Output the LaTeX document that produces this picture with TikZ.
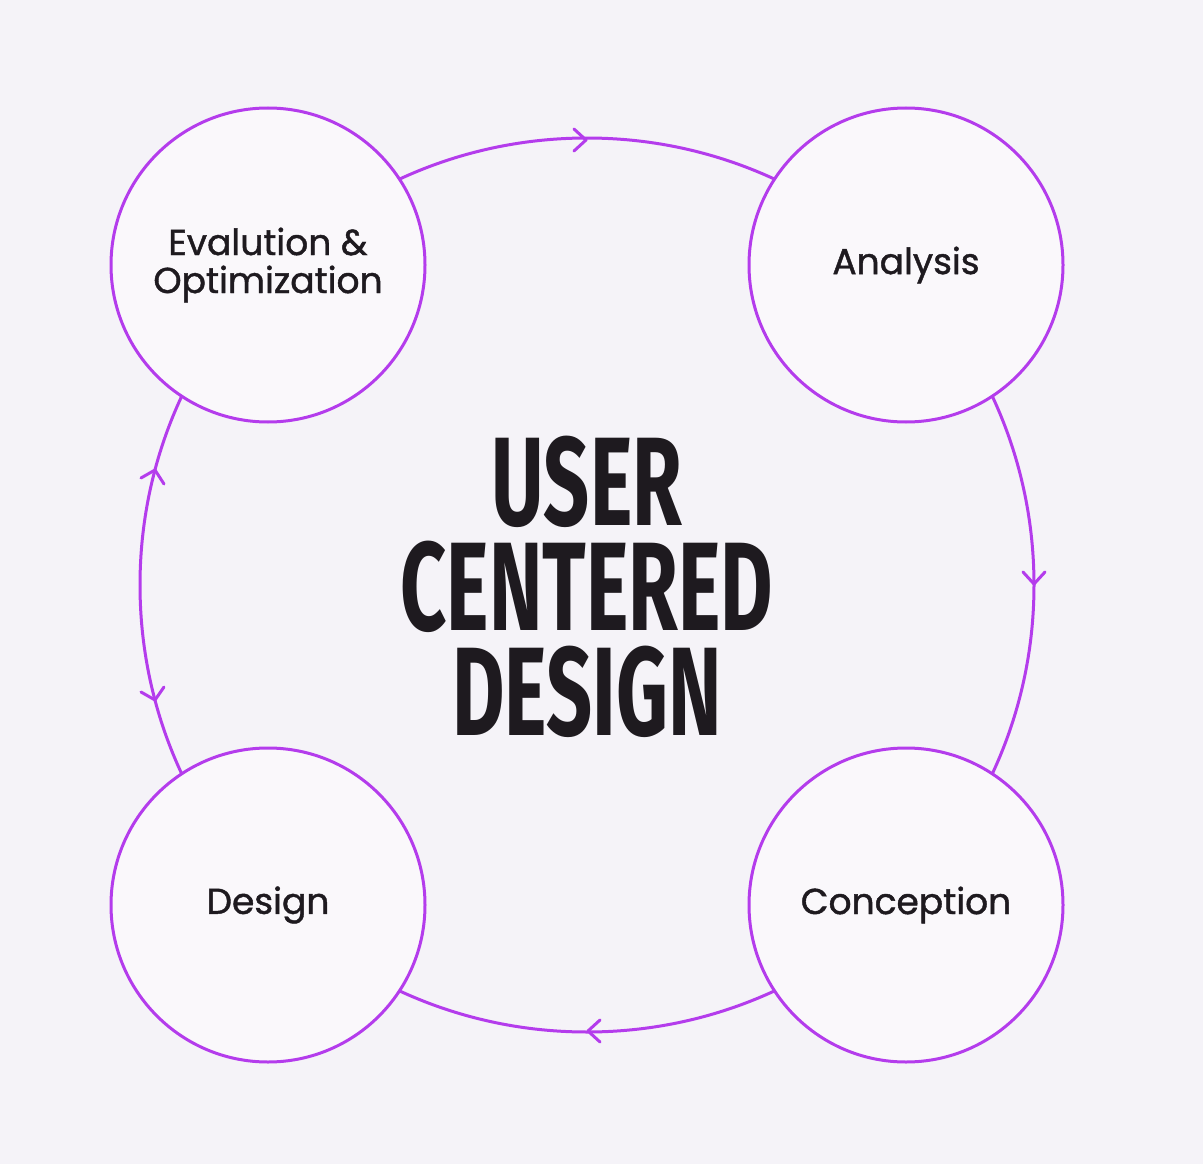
\documentclass[tikz,border=0pt]{standalone}
\usepackage{fontspec}
\usetikzlibrary{calc}
\setmainfont{Poppins}
\newfontfamily\labfont[FakeBold=1.2]{Poppins}
\newfontfamily\titlefont{Fira Sans}
\definecolor{bg}{HTML}{F5F3F8}
\definecolor{pur}{HTML}{B43CEC}
\definecolor{cfill}{HTML}{FAF8FB}
\definecolor{ink}{HTML}{1E1A1F}
\begin{document}
\begin{tikzpicture}[x=1pt,y=-1pt,
  stage/.style={circle,draw=pur,line width=3pt,fill=cfill,minimum size=314pt,inner sep=0pt,align=center,text=ink,font=\labfont\fontsize{36}{44}\selectfont},
  ttl/.style={text=ink,inner sep=0pt,font=\titlefont\bfseries\fontsize{126}{126}\selectfont},
  chev/.style={draw=pur,line width=3pt,line cap=round,line join=round}]
\fill[bg] (0,0) rectangle (1203,1164);
\useasboundingbox (0,0) rectangle (1203,1164);
\coordinate (c) at (587,585);
\draw[pur,line width=3pt] (c) circle[radius=447];
\node[stage] (eo) at (268,265) {Evalution \&\\[-6pt]Optimization};
\node[stage] (an) at (906,265) {Analysis};
\node[stage] (de) at (268,905) {Design};
\node[stage] (co) at (906,905) {Conception};
\node[ttl] (t1) at (587,482) {\scalebox{0.64}[1]{USER}};
\node[ttl] (t2) at (587,587) {\scalebox{0.64}[1]{CENTERED}};
\node[ttl] (t3) at (587,692) {\scalebox{0.64}[1]{DESIGN}};
\coordinate (a1) at (586,140);
\draw[chev] ($(a1)+(-12,-11)$) -- (a1) -- ($(a1)+(-12,11)$);
\coordinate (a2) at (1034,584);
\draw[chev] ($(a2)+(-11,-12)$) -- (a2) -- ($(a2)+(11,-12)$);
\coordinate (a3) at (588,1031);
\draw[chev] ($(a3)+(12,-11)$) -- (a3) -- ($(a3)+(12,11)$);
\coordinate (a4) at (155,470);
\draw[chev] ($(a4)+(-14,8)$) -- (a4) -- ($(a4)+(9,14)$);
\coordinate (a5) at (155,700);
\draw[chev] ($(a5)+(-14,-8)$) -- (a5) -- ($(a5)+(9,-13)$);
\end{tikzpicture}
\end{document}
